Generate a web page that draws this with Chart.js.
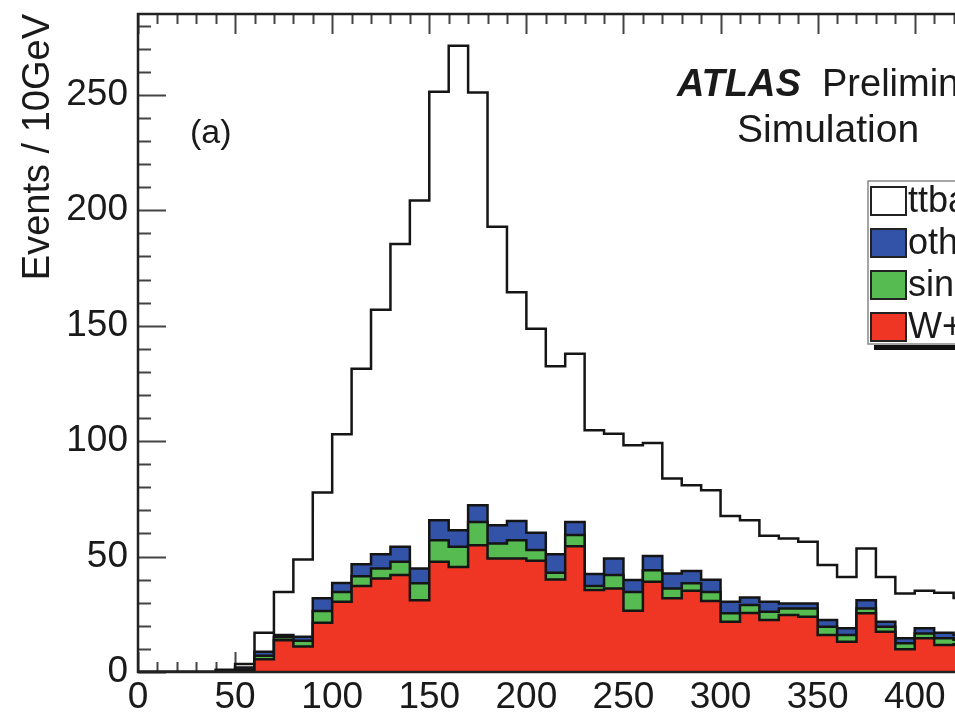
<!DOCTYPE html>
<html>
<head>
<meta charset="utf-8">
<script src="https://cdn.jsdelivr.net/npm/chart.js@4.4.0/dist/chart.umd.min.js"></script>
<style>
html, body { margin: 0; padding: 0; overflow: hidden; background: #fff; }
#wrap { width: 1000px; height: 717px; }
</style>
</head>
<body>
<div id="wrap"><canvas id="mass"></canvas></div>
<script>
// 10 GeV bins, lower edges
const binWidth = 10;
const binStarts = [0, 10, 20, 30, 40, 50, 60, 70, 80, 90, 100, 110, 120, 130, 140, 150, 160, 170, 180, 190,
    200, 210, 220, 230, 240, 250, 260, 270, 280, 290, 300, 310, 320, 330, 340, 350, 360, 370, 380, 390,
    400, 410, 420];

// events per bin for each process
const wjets = [0, 0, 0, 0, 0, 0.5, 5.5, 13.8, 11, 21.3, 30.4, 37.2, 40.5, 42, 31.1, 47.7, 45.5, 54.9, 49.2, 49.2,
    48.2, 40.1, 54.5, 35.5, 36.2, 26.5, 39.1, 31.9, 35.2, 30.8, 21.8, 25.6, 22.5, 24.7, 23.9, 16, 13.1, 25.4, 17.4, 9.8,
    14.6, 11.7, 12];
const singleTop = [0, 0, 0, 0, 0, 0.5, 1.5, 1.2, 2.5, 5.1, 4.3, 4.3, 4.3, 5.7, 7.3, 9.4, 8.7, 10.1, 6.5, 7.9,
    4.6, 2.9, 4.8, 1.7, 5.8, 8.2, 5, 4.3, 3.2, 3.9, 3.6, 3.4, 3.6, 2.8, 3.6, 3.6, 2.9, 2.1, 2.2, 2.6,
    2.1, 2.9, 2];
const other = [0, 0, 0, 0, 0.5, 1, 1.8, 1, 1.8, 5.5, 3.9, 5.2, 6.2, 6.5, 6.4, 8.6, 7.2, 7.2, 7.9, 8.3,
    7.5, 8, 5.7, 5.2, 7.2, 5.1, 6.1, 6.5, 5.3, 5.3, 5, 3.3, 4.3, 2.2, 2.2, 2.9, 2.9, 3.6, 2.2, 2.2,
    2.2, 2.4, 2];
const ttbar = [0, 0, 0, 0, 0.5, 1.5, 8.2, 18.7, 33.4, 45.8, 64.4, 84.6, 105.9, 131.2, 159.4, 185.6, 209.8, 178.8, 129.3, 99.1,
    88.4, 81.4, 72.8, 62.3, 54, 58.4, 49, 41.1, 37.2, 38.7, 37.2, 33.4, 28.6, 28.1, 26.7, 23.8, 22.3, 22.4, 19.4, 19.4,
    16.3, 17.3, 16];

const xTicks = [0, 50, 100, 150, 200, 250, 300, 350, 400];
const yTicks = [0, 50, 100, 150, 200, 250];

const processNames = ['ttbar', 'other', 'single top', 'W+jets'];
const colors = { 'ttbar': '#ffffff', 'other': '#3353a8', 'single top': '#56bb50', 'W+jets': '#ef3624' };

const FONT = '"Liberation Sans", Arial, Helvetica, sans-serif';

// stack bottom-up: W+jets, single top, other, ttbar
const layers = [wjets, singleTop, other, ttbar];
function stackedUpTo(n) {
    return binStarts.map((_, i) => layers.slice(0, n).reduce((s, l) => s + l[i], 0));
}
// points on the lower bin edges, one extra to close the last bin
function histPoints(vals) {
    const pts = binStarts.map((x, i) => ({ x: x, y: vals[i] }));
    pts.push({ x: binStarts[binStarts.length - 1] + binWidth, y: vals[vals.length - 1] });
    return pts;
}

function histDataset(name, depth) {
    return {
        label: name,
        data: histPoints(stackedUpTo(depth)),
        stepped: true,
        fill: 'origin',
        backgroundColor: colors[name],
        borderColor: '#151515',
        borderWidth: 2.5,
        borderJoinStyle: 'miter',
        pointRadius: 0,
        order: depth
    };
}

// ROOT-style ticks inside the frame
const ticksInside = {
    id: 'ticksInside',
    beforeDatasetsDraw(chart) {
        const { ctx, chartArea: a, scales: { x, y } } = chart;
        ctx.save();
        ctx.strokeStyle = '#444';
        ctx.lineWidth = 2;
        ctx.beginPath();
        for (let v = 0; v <= y.max; v += 10) {
            const py = Math.round(y.getPixelForValue(v)) + 0.5;
            const len = v % 50 === 0 ? 28 : 13;
            ctx.moveTo(a.left, py); ctx.lineTo(a.left + len, py);
        }
        for (let v = 0; v <= x.max; v += 10) {
            const px = Math.round(x.getPixelForValue(v)) + 0.5;
            const len = v % 50 === 0 ? 20 : 10;
            ctx.moveTo(px, a.bottom); ctx.lineTo(px, a.bottom - len);
            ctx.moveTo(px, a.top); ctx.lineTo(px, a.top + len);
        }
        ctx.stroke();
        ctx.restore();
    },
    afterDatasetsDraw(chart) {
        const { ctx, chartArea: a } = chart;
        ctx.save();
        ctx.strokeStyle = '#222';
        ctx.lineWidth = 2.5;
        ctx.strokeRect(a.left, a.top, a.right - a.left, a.bottom - a.top);
        ctx.restore();
    }
};

// labels and legend drawn on the pad
const padText = {
    id: 'padText',
    afterDraw(chart) {
        const ctx = chart.ctx;
        ctx.save();
        ctx.fillStyle = '#1a1a1a';
        ctx.textBaseline = 'alphabetic';
        ctx.textAlign = 'left';
        ctx.font = 'italic bold 38px ' + FONT;
        ctx.fillText('ATLAS', 677, 96);
        ctx.font = '38px ' + FONT;
        ctx.fillText('Preliminary', 822, 96);
        ctx.font = '39px ' + FONT;
        ctx.fillText('Simulation', 737, 142);
        ctx.font = '34px ' + FONT;
        ctx.fillText('(a)', 190, 143);

        // legend box with shadow
        const lx = 868, ly = 181, lw = 300, lh = 163;
        ctx.fillStyle = '#fff';
        ctx.fillRect(lx, ly, lw, lh);
        ctx.strokeStyle = '#888';
        ctx.lineWidth = 1.5;
        ctx.strokeRect(lx, ly, lw, lh);
        ctx.fillStyle = '#111';
        ctx.fillRect(lx + 6, ly + lh + 1, lw, 5);

        ctx.font = '36px ' + FONT;
        ctx.textBaseline = 'middle';
        processNames.forEach((name, i) => {
            const ry = 187 + i * 42;
            ctx.fillStyle = colors[name];
            ctx.fillRect(871, ry, 35, 28);
            ctx.strokeStyle = '#222';
            ctx.lineWidth = 2;
            ctx.strokeRect(871, ry, 35, 28);
            ctx.fillStyle = '#1a1a1a';
            ctx.fillText(name, 908, ry + 15);
        });
        ctx.restore();
    }
};

new Chart(document.getElementById('mass'), {
    type: 'line',
    data: {
        datasets: [
            histDataset('ttbar', 4),
            histDataset('other', 3),
            histDataset('single top', 2),
            histDataset('W+jets', 1)
        ]
    },
    options: {
        responsive: true,
        maintainAspectRatio: false,
        animation: false,
        layout: { padding: { top: 14, right: 27, bottom: 0, left: 0 } },
        plugins: { legend: { display: false }, tooltip: { enabled: false } },
        scales: {
            x: {
                type: 'linear',
                min: 0,
                max: 430,
                grid: { display: false, drawTicks: false },
                border: { display: false },
                afterFit: (scale) => {
                    scale.height = 45;
                    scale.paddingLeft = 0;
                    scale.paddingRight = 0;
                },
                afterBuildTicks: (scale) => { scale.ticks = xTicks.map(v => ({ value: v })); },
                ticks: { padding: 4, color: '#1a1a1a', font: { family: FONT, size: 37 }, maxRotation: 0, autoSkip: false }
            },
            y: {
                min: 0,
                max: 285,
                grid: { display: false, drawTicks: false },
                border: { display: false },
                afterFit: (scale) => {
                    scale.width = 138;
                    scale.paddingTop = 0;
                    scale.paddingBottom = 0;
                },
                afterBuildTicks: (scale) => { scale.ticks = yTicks.map(v => ({ value: v })); },
                ticks: { padding: 10, color: '#1a1a1a', font: { family: FONT, size: 37 } },
                title: {
                    display: true,
                    text: 'Events / 10GeV',
                    align: 'end',
                    color: '#1a1a1a',
                    font: { family: FONT, size: 38 },
                    padding: { top: 16, bottom: 0 }
                }
            }
        }
    },
    plugins: [ticksInside, padText]
});
</script>
</body>
</html>
